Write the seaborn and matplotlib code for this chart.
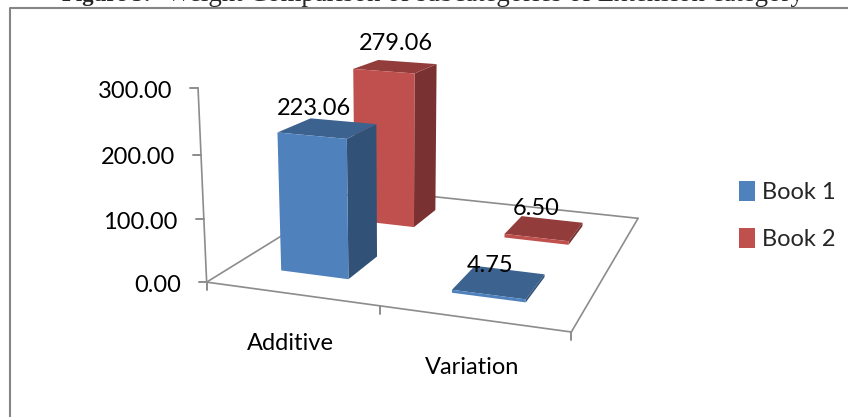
import numpy as np
import pandas as pd
import seaborn as sns
import matplotlib
matplotlib.use("Agg")
import matplotlib.pyplot as plt
from matplotlib.lines import Line2D
from matplotlib.patches import Patch

categories = ["Additive", "Variation"]
series_names = ["Book 1", "Book 2"]
book1_values = [223.06, 4.75]
book2_values = [279.06, 6.50]
value_ticks = [0, 100, 200, 300]
series_colors = ["#4F81BD", "#C0504D"]
title_bold = "Figure 3:"
title_rest = "Weight Comparison of subcategories of Extension category"

df = pd.DataFrame({"category": categories * 2,
                   "series": np.repeat(series_names, 2),
                   "value": book1_values + book2_values})

sns.set_theme(style="white")
plt.rcParams["font.family"] = ["Lato", "DejaVu Sans"]
palette = sns.color_palette(series_colors)

# Camera calibration: world (x=category, y=series depth, z=value) -> figure pixels
world = np.array([[0, 0, 0], [2, 0, 0], [2, 2, 0], [0, 2, 0], [1, 0, 0],
                  [0, 0, 100], [0, 0, 200], [0, 0, 300]], float)
pix = np.array([[207, 283], [572, 331], [638, 219], [358, 188], [379, 306],
                [204, 219], [201, 155], [198, 88]], float)
scale = np.array([1, 1, 1 / 100.0])
A = []
for (X, Y, Z), (u, v) in zip(world * scale, pix):
    A.append([X, Y, Z, 1, 0, 0, 0, 0, -u * X, -u * Y, -u * Z, -u])
    A.append([0, 0, 0, 0, X, Y, Z, 1, -v * X, -v * Y, -v * Z, -v])
P = np.linalg.svd(np.array(A))[2][-1].reshape(3, 4)
P = P @ np.diag([scale[0], scale[1], scale[2], 1])
if P[2, 3] < 0:
    P = -P
P = P / P[2, 3]


def project(x, y, z):
    h = P @ np.array([x, y, z, 1.0])
    return h[0] / h[2], h[1] / h[2]


fig = plt.figure(figsize=(8.48, 4.17), dpi=100, facecolor="white")
ax = fig.add_axes([0, 0, 1, 1], projection="3d")
ax.set_axis_off()
ax.computed_zorder = False
ax.apply_aspect = lambda position=None: None
ax.get_proj = lambda: np.vstack([P[0], P[1], [0, 0, 0, -1], P[2]])

GREY = "#8C8C8C"


def edge(a, b, **kw):
    (u0, v0), (u1, v1) = project(*a), project(*b)
    ax.add_line(Line2D([u0, u1], [v0, v1], color=GREY, lw=1.2, zorder=1, **kw))


corners = [(0, 0, 0), (2, 0, 0), (2, 2, 0), (0, 2, 0)]
for i in range(4):
    edge(corners[i], corners[(i + 1) % 4])
edge((0, 0, 0), (0, 0, max(value_ticks)))

BAR_X0 = 0.285
BAR_DX = 0.405
BAR_Y = 0.30
clear = (0, 0, 0, 0)
order = 2
for s_idx, name in reversed(list(enumerate(series_names))):
    for c_idx, cat in enumerate(categories):
        val = df[(df.series == name) & (df.category == cat)].value.iloc[0]
        base = np.array(palette[s_idx])
        top = tuple(base * 0.76)
        side = tuple(base * 0.63)
        ax.bar3d(c_idx + BAR_X0, s_idx + BAR_Y, 0, BAR_DX, 1 - 2 * BAR_Y, val,
                 color=[clear, top, tuple(base), clear, clear, side],
                 shade=False, edgecolor="none", zorder=order)
        order += 1

txt = dict(fontsize=17, color="black", xycoords="data", textcoords="offset pixels",
           zorder=50, annotation_clip=False)
for v in value_ticks:
    u, w = project(0, 0, v)
    ax.add_line(Line2D([u - 8, u], [w, w], color=GREY, lw=1.4, zorder=1))
    ax.annotate(f"{v:.2f}", xy=(u, w), xytext=(-26, -3), ha="right", va="center", **txt)
for c in range(3):
    u, w = project(c, 0, 0)
    ax.add_line(Line2D([u, u], [w, w + 8], color=GREY, lw=1.4, zorder=1))
cat_offsets = [(-1, -50), (-1, -49)]
for c, cat in enumerate(categories):
    u, w = project(c + 0.5, 0, 0)
    ax.annotate(cat, xy=(u, w), xytext=cat_offsets[c], ha="center", va="center", **txt)

label_offsets = {(0, 0): (-16, 20), (1, 0): (-2, 23), (0, 1): (-11, 17), (1, 1): (-10, 20)}
for s_idx, name in enumerate(series_names):
    for c_idx, cat in enumerate(categories):
        val = df[(df.series == name) & (df.category == cat)].value.iloc[0]
        u, w = project(c_idx + 0.5, s_idx + 0.5, val)
        ax.annotate(f"{val:.2f}", xy=(u, w), xytext=label_offsets[(s_idx, c_idx)],
                    ha="center", va="center", **txt)

# frame and caption (the image crops the chart frame at right and bottom)
ax.add_line(Line2D([848, 10, 10], [8, 8, 417], color="#858585", lw=1.5, zorder=60))
ax.annotate(title_bold, xy=(62, 1), xycoords="data", fontsize=16.5, fontweight="bold",
            family="Liberation Serif", va="baseline", ha="left", annotation_clip=False)
ax.annotate(title_rest, xy=(166, 1), xycoords="data", fontsize=19.3,
            family="Liberation Serif", va="baseline", ha="left", annotation_clip=False)

handles = [Patch(facecolor=palette[i], edgecolor="none", label=n)
           for i, n in enumerate(series_names)]
fig.legend(handles=handles, loc="center left", bbox_to_anchor=(739 / 848, 0.483),
           frameon=False, fontsize=17, handlelength=0.66, handleheight=0.9,
           handletextpad=0.3, labelspacing=1.07, borderpad=0, borderaxespad=0)

ax.viewLim.set_points(np.array([[0, 417], [848, 0]], float))
fig.savefig("out.png", dpi=100)
